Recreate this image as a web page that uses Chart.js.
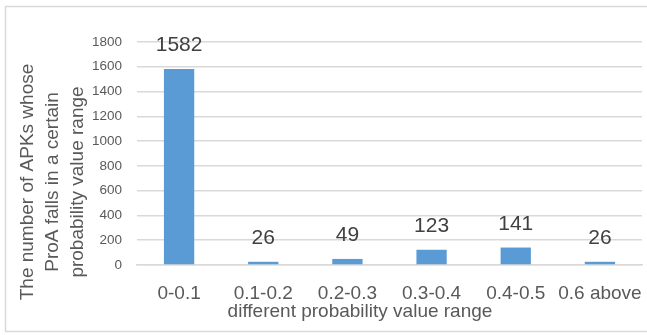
<!DOCTYPE html>
<html>
<head>
<meta charset="utf-8">
<script src="https://cdn.jsdelivr.net/npm/chart.js@4"></script>
<style>
html,body{margin:0;padding:0;background:#fff;}
#wrap{position:relative;width:647px;height:335px;}
</style>
</head>
<body>
<div id="wrap"><canvas id="c" width="647" height="335"></canvas></div>
<script>
const categories = ["0-0.1", "0.1-0.2", "0.2-0.3", "0.3-0.4", "0.4-0.5", "0.6 above"];
const counts = [1582, 26, 49, 123, 141, 26];
const yTitleLines = ["The number of APKs whose", "ProA falls in a certain", "probability value range"];
const xTitle = "different probability value range";

const FONT = "'Liberation Sans', Arial, sans-serif";
const AXIS_COLOR = "#595959";

const framePlugin = {
  id: 'frame',
  beforeDraw(chart) {
    const ctx = chart.ctx;
    ctx.save();
    ctx.fillStyle = '#fff';
    ctx.fillRect(0, 0, chart.width, chart.height);
    ctx.strokeStyle = '#d9d9d9';
    ctx.lineWidth = 1.5;
    ctx.beginPath();
    ctx.moveTo(chart.width + 2, 6.5);
    ctx.lineTo(5.5, 6.5);
    ctx.lineTo(5.5, 331.5);
    ctx.lineTo(chart.width + 2, 331.5);
    ctx.stroke();
    ctx.restore();
  },
  afterDraw(chart) {
    const ctx = chart.ctx;
    ctx.save();
    ctx.fillStyle = AXIS_COLOR;
    ctx.font = "19px " + FONT;
    ctx.textAlign = 'center';
    ctx.textBaseline = 'middle';
    ctx.fillText(xTitle, 360, 312);
    const xs = [28, 53, 78];
    yTitleLines.forEach((line, i) => {
      ctx.save();
      ctx.translate(xs[i], 182);
      ctx.rotate(-Math.PI / 2);
      ctx.fillText(line, 0, 0);
      ctx.restore();
    });
    ctx.restore();
  }
};

const labelPlugin = {
  id: 'barLabels',
  afterDatasetsDraw(chart) {
    const ctx = chart.ctx;
    const meta = chart.getDatasetMeta(0);
    ctx.save();
    ctx.fillStyle = '#404040';
    ctx.font = "21px " + FONT;
    ctx.textAlign = 'center';
    ctx.textBaseline = 'alphabetic';
    meta.data.forEach((el, i) => {
      ctx.fillText(String(counts[i]), el.x, el.y - 18);
    });
    ctx.restore();
  }
};

new Chart(document.getElementById('c'), {
  type: 'bar',
  data: {
    labels: categories,
    datasets: [{
      data: counts,
      backgroundColor: '#5B9BD5',
      borderWidth: 0,
      categoryPercentage: 1.0,
      barPercentage: 0.36
    }]
  },
  options: {
    responsive: false,
    animation: false,
    devicePixelRatio: 1,
    layout: { padding: { top: 42, right: 5, left: 0, bottom: 0 } },
    plugins: { legend: { display: false }, tooltip: { enabled: false } },
    scales: {
      x: {
        grid: { display: false, drawTicks: false },
        border: { display: true, color: '#d9d9d9', width: 1.5 },
        ticks: { color: AXIS_COLOR, font: { family: FONT, size: 19 }, padding: 17, maxRotation: 0, autoSkip: false },
        afterFit(scale) { scale.height = 70; scale.paddingLeft = 0; scale.paddingRight = 0; }
      },
      y: {
        min: 0, max: 1800,
        grid: { color: '#d9d9d9', lineWidth: 1.5, drawTicks: false },
        border: { display: false },
        ticks: { stepSize: 200, color: AXIS_COLOR, font: { family: FONT, size: 13.5 }, padding: 15,
                 callback: (v) => String(v) },
        afterFit(scale) { scale.width = 137; }
      }
    }
  },
  plugins: [framePlugin, labelPlugin]
});
</script>
</body>
</html>
